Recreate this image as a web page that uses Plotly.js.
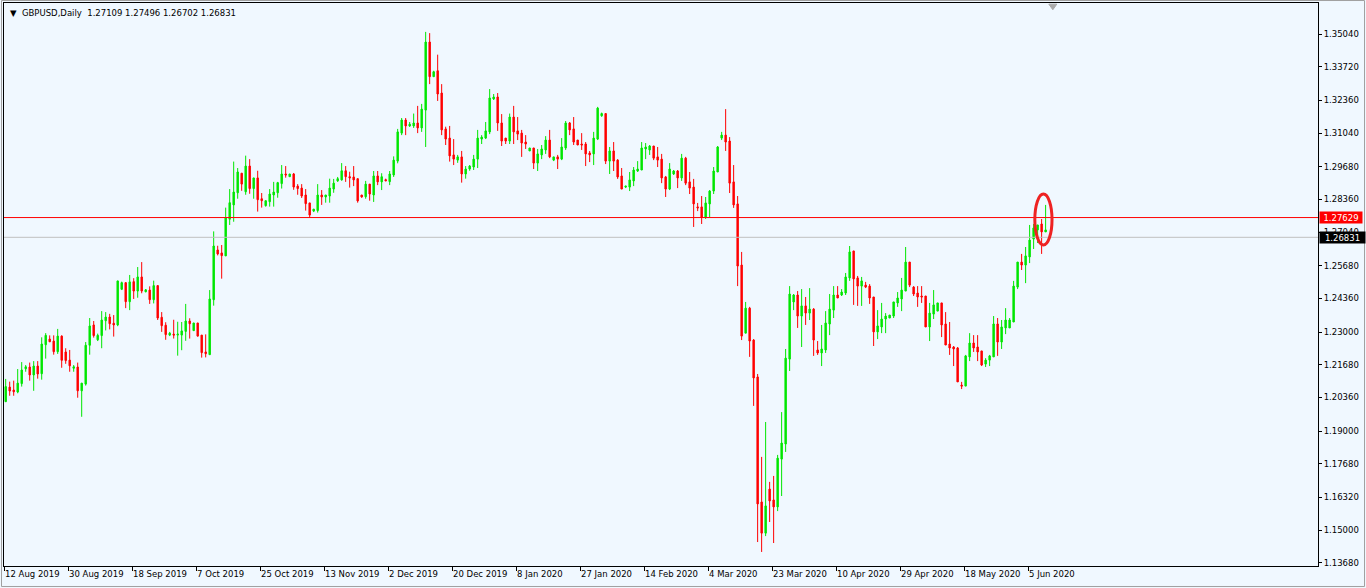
<!DOCTYPE html>
<html>
<head>
<meta charset="utf-8">
<script src="https://cdn.plot.ly/plotly-3.0.1.min.js"></script>
<style>
html,body{margin:0;padding:0;background:#F0F8FF;}
#chart{width:1366px;height:588px;}
</style>
</head>
<body>
<div id="chart"></div>
<script>
// GBPUSD daily candles (bar index 0 = 12 Aug 2019)
const openP = [1.2019,1.2078,1.2066,1.2058,1.2092,1.2152,1.2159,1.2127,1.2163,1.2132,
1.2249,1.2272,1.2264,1.2221,1.2284,1.2220,1.2187,1.2154,1.2159,1.2063,
1.2090,1.2247,1.2329,1.2269,1.2286,1.2346,1.2361,1.2336,1.2329,1.2473,
1.2500,1.2423,1.2504,1.2466,1.2523,1.2463,1.2470,1.2431,1.2488,1.2360,
1.2328,1.2288,1.2292,1.2288,1.2288,1.2303,1.2345,1.2306,1.2337,1.2288,
1.2220,1.2209,1.2431,1.2632,1.2620,1.2608,1.2756,1.2814,1.2863,1.2942,
1.2867,1.2971,1.2880,1.2923,1.2839,1.2811,1.2827,1.2854,1.2863,1.2900,
1.2939,1.2928,1.2939,1.2890,1.2882,1.2854,1.2822,1.2789,1.2791,1.2854,
1.2846,1.2850,1.2878,1.2911,1.2915,1.2952,1.2928,1.2927,1.2920,1.2854,
1.2847,1.2898,1.2854,1.2931,1.2907,1.2916,1.2908,1.2935,1.2991,1.3104,
1.3157,1.3133,1.3133,1.3145,1.3125,1.3197,1.3472,1.3332,1.3356,1.3266,
1.3121,1.3084,1.3016,1.2995,1.3008,1.2939,1.2959,1.2967,1.2999,1.3080,
1.3084,1.3109,1.3242,1.3250,1.3145,1.3084,1.3072,1.3169,1.3113,1.3104,
1.3068,1.3032,1.3044,1.2983,1.3016,1.3036,1.3076,1.2995,1.3008,1.2999,
1.3044,1.3145,1.3121,1.3076,1.3060,1.3060,1.3024,1.3020,1.3080,1.3174,
1.3183,1.2991,1.3032,1.2995,1.2931,1.2886,1.2886,1.2911,1.2951,1.2955,
1.3040,1.3036,1.3052,1.3008,1.2999,1.2927,1.2878,1.2939,1.2951,1.2923,
1.3003,1.2907,1.2886,1.2806,1.2806,1.2765,1.2818,1.2870,1.2947,1.3084,
1.3096,1.3072,1.2907,1.2818,1.2571,1.2296,1.2397,1.2268,1.2119,1.1614,
1.1488,1.1666,1.1622,1.1594,1.1787,1.1848,1.2191,1.2422,1.2450,1.2365,
1.2406,1.2377,1.2393,1.2228,1.2216,1.2228,1.2333,1.2389,1.2450,1.2450,
1.2458,1.2519,1.2628,1.2519,1.2486,1.2490,1.2486,1.2442,1.2301,1.2321,
1.2353,1.2357,1.2365,1.2418,1.2434,1.2466,1.2583,1.2482,1.2458,1.2446,
1.2446,1.2321,1.2373,1.2385,1.2418,1.2333,1.2252,1.2240,1.2236,1.2086,
1.2082,1.2200,1.2256,1.2240,1.2224,1.2171,1.2187,1.2200,1.2333,1.2260,
1.2317,1.2317,1.2341,1.2482,1.2583,1.2571,1.2604,1.2676,1.2713,1.2737,
1.2705];
const highP = [1.2111,1.2100,1.2104,1.2151,1.2179,1.2167,1.2177,1.2183,1.2183,1.2279,
1.2296,1.2287,1.2287,1.2313,1.2287,1.2235,1.2228,1.2167,1.2177,1.2094,
1.2260,1.2357,1.2345,1.2294,1.2385,1.2381,1.2374,1.2369,1.2507,1.2504,
1.2500,1.2531,1.2518,1.2563,1.2583,1.2474,1.2485,1.2508,1.2488,1.2381,
1.2340,1.2301,1.2350,1.2342,1.2341,1.2414,1.2356,1.2337,1.2337,1.2288,
1.2291,1.2470,1.2707,1.2649,1.2652,1.2803,1.2878,1.2989,1.2963,1.2943,
1.3013,1.2999,1.2923,1.2952,1.2862,1.2831,1.2878,1.2907,1.2907,1.2975,
1.2971,1.2939,1.2943,1.2898,1.2898,1.2878,1.2822,1.2797,1.2898,1.2874,
1.2854,1.2920,1.2919,1.2927,1.2983,1.2971,1.2948,1.2971,1.2920,1.2854,
1.2911,1.2898,1.2951,1.2951,1.2942,1.2920,1.2951,1.3010,1.3121,1.3165,
1.3165,1.3149,1.3183,1.3214,1.3222,1.3513,1.3508,1.3356,1.3421,1.3302,
1.3130,1.3133,1.3080,1.3016,1.3032,1.2971,1.2975,1.3016,1.3117,1.3096,
1.3149,1.3282,1.3262,1.3266,1.3181,1.3084,1.3183,1.3214,1.3169,1.3117,
1.3096,1.3044,1.3044,1.3040,1.3056,1.3092,1.3117,1.3008,1.3016,1.3084,
1.3153,1.3149,1.3169,1.3076,1.3104,1.3068,1.3032,1.3109,1.3210,1.3187,
1.3183,1.3048,1.3068,1.2999,1.2963,1.2890,1.2947,1.2967,1.2991,1.3068,
1.3064,1.3056,1.3052,1.3048,1.3020,1.2931,1.2983,1.2955,1.2955,1.3020,
1.3008,1.2947,1.2919,1.2822,1.2850,1.2846,1.2874,1.2967,1.3052,1.3109,
1.3201,1.3088,1.2975,1.2850,1.2624,1.2422,1.2402,1.2272,1.2131,1.1796,
1.1937,1.1695,1.1719,1.1804,1.1977,1.2232,1.2486,1.2454,1.2466,1.2474,
1.2442,1.2478,1.2397,1.2264,1.2329,1.2385,1.2454,1.2486,1.2486,1.2474,
1.2539,1.2648,1.2628,1.2527,1.2523,1.2503,1.2494,1.2442,1.2389,1.2418,
1.2377,1.2369,1.2422,1.2462,1.2519,1.2644,1.2583,1.2486,1.2486,1.2486,
1.2446,1.2418,1.2470,1.2418,1.2418,1.2381,1.2341,1.2244,1.2240,1.2099,
1.2208,1.2296,1.2288,1.2288,1.2224,1.2195,1.2208,1.2365,1.2357,1.2349,
1.2397,1.2357,1.2507,1.2583,1.2616,1.2644,1.2733,1.2737,1.2733,1.2757,
1.2814];
const lowP = [1.2019,1.2043,1.2043,1.2053,1.2080,1.2140,1.2104,1.2063,1.2112,1.2108,
1.2193,1.2260,1.2209,1.2212,1.2156,1.2172,1.2140,1.2140,1.2035,1.1958,
1.2084,1.2209,1.2278,1.2264,1.2235,1.2307,1.2311,1.2282,1.2324,1.2470,
1.2397,1.2389,1.2434,1.2439,1.2457,1.2461,1.2414,1.2416,1.2349,1.2301,
1.2269,1.2284,1.2274,1.2205,1.2227,1.2265,1.2274,1.2306,1.2282,1.2197,
1.2198,1.2209,1.2407,1.2610,1.2516,1.2608,1.2733,1.2746,1.2839,1.2871,
1.2855,1.2859,1.2839,1.2787,1.2803,1.2807,1.2807,1.2807,1.2843,1.2880,
1.2924,1.2928,1.2875,1.2855,1.2842,1.2791,1.2762,1.2785,1.2783,1.2814,
1.2823,1.2823,1.2863,1.2907,1.2912,1.2907,1.2884,1.2890,1.2823,1.2843,
1.2839,1.2831,1.2826,1.2894,1.2874,1.2911,1.2894,1.2927,1.2982,1.3096,
1.3096,1.3129,1.3125,1.3104,1.3109,1.3048,1.3302,1.3332,1.3234,1.3096,
1.3056,1.2989,1.2975,1.2984,1.2904,1.2920,1.2952,1.2955,1.2963,1.3060,
1.3080,1.3100,1.3238,1.3113,1.3052,1.3060,1.3060,1.3060,1.3076,1.3008,
1.3040,1.3032,1.2959,1.2951,1.2999,1.3020,1.3003,1.2991,1.2959,1.2995,
1.3036,1.3096,1.3056,1.3056,1.3036,1.2971,1.2987,1.2975,1.3076,1.3170,
1.2979,1.2939,1.2951,1.2919,1.2878,1.2882,1.2870,1.2890,1.2947,1.2955,
1.2999,1.3016,1.2995,1.2967,1.2902,1.2846,1.2874,1.2935,1.2882,1.2911,
1.2894,1.2858,1.2725,1.2789,1.2737,1.2757,1.2765,1.2858,1.2947,1.3076,
1.3032,1.2862,1.2802,1.2486,1.2268,1.2296,1.2200,1.2002,1.1452,1.1412,
1.1476,1.1533,1.1448,1.1577,1.1638,1.1816,1.2143,1.2389,1.2317,1.2240,
1.2329,1.2349,1.2204,1.2208,1.2163,1.2216,1.2288,1.2357,1.2438,1.2446,
1.2450,1.2507,1.2410,1.2406,1.2406,1.2478,1.2414,1.2244,1.2272,1.2296,
1.2296,1.2357,1.2357,1.2402,1.2385,1.2466,1.2482,1.2446,1.2402,1.2418,
1.2321,1.2264,1.2353,1.2385,1.2280,1.2248,1.2208,1.2163,1.2099,1.2070,
1.2082,1.2183,1.2220,1.2183,1.2163,1.2159,1.2163,1.2200,1.2204,1.2232,
1.2292,1.2317,1.2341,1.2474,1.2551,1.2498,1.2579,1.2636,1.2660,1.2616,
1.2705];
const closeP = [1.2080,1.2062,1.2059,1.2094,1.2147,1.2160,1.2127,1.2163,1.2131,1.2252,
1.2287,1.2261,1.2221,1.2284,1.2186,1.2185,1.2164,1.2160,1.2063,1.2094,
1.2247,1.2325,1.2286,1.2287,1.2349,1.2361,1.2334,1.2329,1.2507,1.2500,
1.2423,1.2503,1.2466,1.2523,1.2466,1.2471,1.2431,1.2488,1.2357,1.2326,
1.2290,1.2296,1.2288,1.2292,1.2305,1.2345,1.2334,1.2337,1.2284,1.2217,
1.2213,1.2434,1.2648,1.2616,1.2609,1.2762,1.2823,1.2866,1.2947,1.2898,
1.2971,1.2880,1.2923,1.2835,1.2831,1.2831,1.2858,1.2866,1.2904,1.2939,
1.2935,1.2939,1.2886,1.2880,1.2850,1.2819,1.2773,1.2797,1.2854,1.2846,
1.2854,1.2882,1.2902,1.2920,1.2952,1.2928,1.2923,1.2915,1.2830,1.2846,
1.2898,1.2858,1.2931,1.2907,1.2928,1.2911,1.2939,1.2995,1.3109,1.3157,
1.3133,1.3140,1.3145,1.3125,1.3201,1.3472,1.3332,1.3352,1.3262,1.3117,
1.3080,1.3012,1.2999,1.3008,1.2939,1.2959,1.2971,1.2999,1.3084,1.3088,
1.3113,1.3246,1.3250,1.3145,1.3072,1.3072,1.3169,1.3109,1.3100,1.3064,
1.3060,1.3044,1.2983,1.3020,1.3040,1.3076,1.3008,1.3008,1.2999,1.3048,
1.3145,1.3117,1.3068,1.3056,1.3056,1.3020,1.3016,1.3084,1.3205,1.3183,
1.2991,1.3032,1.2991,1.2927,1.2878,1.2890,1.2915,1.2955,1.2959,1.3044,
1.3048,1.3052,1.3003,1.2995,1.2923,1.2878,1.2959,1.2951,1.2923,1.3003,
1.2902,1.2882,1.2818,1.2802,1.2765,1.2822,1.2870,1.2951,1.3048,1.3096,
1.3068,1.2902,1.2814,1.2567,1.2284,1.2397,1.2264,1.2115,1.1606,1.1488,
1.1598,1.1618,1.1594,1.1791,1.1852,1.2195,1.2454,1.2450,1.2365,1.2406,
1.2377,1.2393,1.2268,1.2216,1.2232,1.2337,1.2393,1.2450,1.2438,1.2462,
1.2523,1.2624,1.2515,1.2486,1.2507,1.2482,1.2438,1.2301,1.2325,1.2353,
1.2365,1.2369,1.2422,1.2438,1.2470,1.2583,1.2490,1.2454,1.2442,1.2442,
1.2321,1.2377,1.2410,1.2418,1.2329,1.2248,1.2236,1.2232,1.2099,1.2082,
1.2204,1.2256,1.2236,1.2220,1.2167,1.2187,1.2204,1.2333,1.2260,1.2321,
1.2349,1.2349,1.2486,1.2583,1.2571,1.2608,1.2672,1.2721,1.2733,1.2705,
1.2713];

// Date labels shown every 16 bars along the time axis
const dateLabels = ['12 Aug 2019','30 Aug 2019','18 Sep 2019','7 Oct 2019','25 Oct 2019',
'13 Nov 2019','2 Dec 2019','20 Dec 2019','8 Jan 2020','27 Jan 2020','14 Feb 2020',
'4 Mar 2020','23 Mar 2020','10 Apr 2020','29 Apr 2020','18 May 2020','5 Jun 2020'];
const dateLabelEvery = 16;

// Price scale labels
const priceTicks = [1.35040,1.33720,1.32360,1.31040,1.29680,1.28360,1.27040,1.25680,
1.24360,1.23000,1.21680,1.20360,1.19000,1.17680,1.16320,1.15000,1.13680];

// Header and price markers
const symbolName = 'GBPUSD,Daily';
const headerOHLC = [1.27109, 1.27496, 1.26702, 1.26831];
const levelLine = 1.27629;   // red horizontal line
const bidPrice = 1.26831;    // last price line

const bars = openP.map((_, i) => i);
const FONT = 'DejaVu Sans, Verdana, sans-serif';

const trace = {
  type: 'candlestick',
  x: bars, open: openP, high: highP, low: lowP, close: closeP,
  increasing: {line: {color: '#00E600', width: 1}, fillcolor: '#00E600'},
  decreasing: {line: {color: '#FF0000', width: 1}, fillcolor: '#FF0000'},
  whiskerwidth: 0,
  hoverinfo: 'skip',
  showlegend: false
};

const lastIdx = bars[bars.length - 1];

const layout = {
  width: 1366, height: 588,
  margin: {l: 4, r: 48, t: 3, b: 22, pad: 0},
  paper_bgcolor: '#F0F8FF',
  plot_bgcolor: '#F0F8FF',
  boxgap: 0.5,
  showlegend: false,
  font: {family: FONT, size: 8.5, color: '#000'},
  xaxis: {
    range: [-0.425, 328.1],
    showgrid: false, zeroline: false,
    showline: true, mirror: true, linecolor: '#000', linewidth: 1,
    ticks: 'outside', ticklen: 4, tickcolor: '#000', tickwidth: 1,
    tickvals: dateLabels.map((_, k) => k * dateLabelEvery - 0.4),
    ticktext: dateLabels,
    ticklabelposition: 'outside right',
    tickfont: {family: FONT, size: 8.5, color: '#000'},
    rangeslider: {visible: false},
    fixedrange: true
  },
  yaxis: {
    side: 'right',
    range: [1.13552, 1.36297],
    showgrid: false, zeroline: false,
    showline: true, mirror: true, linecolor: '#000', linewidth: 1,
    ticks: 'outside', ticklen: 3, tickcolor: '#000', tickwidth: 1,
    tickvals: priceTicks,
    ticktext: priceTicks.map(v => v.toFixed(5)),
    tickfont: {family: FONT, size: 8.5, color: '#000'},
    fixedrange: true
  },
  shapes: [
    {type: 'rect', xref: 'paper', yref: 'paper', x0: -0.0019, x1: 1.0354, y0: -0.0364, y1: 1.0044,
     line: {color: '#A0A0A0', width: 1}, fillcolor: 'rgba(0,0,0,0)', layer: 'below'},
    {type: 'line', xref: 'paper', x0: 0, x1: 1, yref: 'y', y0: levelLine, y1: levelLine,
     line: {color: '#FF0000', width: 1}},
    {type: 'line', xref: 'paper', x0: 0, x1: 1, yref: 'y', y0: bidPrice, y1: bidPrice,
     line: {color: '#C0C0C0', width: 1}},
    {type: 'circle', xref: 'x', yref: 'y', x0: lastIdx - 2.7, x1: lastIdx + 1.6, y0: 1.2652, y1: 1.2858,
     line: {color: '#EE2222', width: 3}},
    {type: 'path', xref: 'x', yref: 'paper',
     path: 'M 260.8 0.998 L 262.8 0.998 L 261.8 0.988 Z',
     fillcolor: '#A9A9A9', line: {color: '#A9A9A9', width: 1}}
  ],
  annotations: [
    {xref: 'paper', yref: 'paper', x: 0.0030, y: 0.9817, xanchor: 'left', yanchor: 'middle',
     showarrow: false, align: 'left',
     text: '\u25BC\u00a0\u00a0' + symbolName + '\u00a0\u00a0' + headerOHLC.map(v => v.toFixed(5)).join(' '),
     font: {family: FONT, size: 8.5, color: '#000'}},
    {xref: 'paper', yref: 'y', x: 1.0008, y: levelLine, xanchor: 'left', yanchor: 'middle',
     showarrow: false, text: levelLine.toFixed(5), bgcolor: '#FF0000', borderpad: 1,
     width: 40, height: 9, font: {family: FONT, size: 8.5, color: '#FFFFFF'}},
    {xref: 'paper', yref: 'y', x: 1.0008, y: bidPrice, xanchor: 'left', yanchor: 'middle',
     showarrow: false, text: bidPrice.toFixed(5), bgcolor: '#000000', borderpad: 1,
     width: 43, height: 9, font: {family: FONT, size: 8.5, color: '#FFFFFF'}}
  ]
};

Plotly.newPlot('chart', [trace], layout, {displayModeBar: false, staticPlot: true});
</script>
</body>
</html>
